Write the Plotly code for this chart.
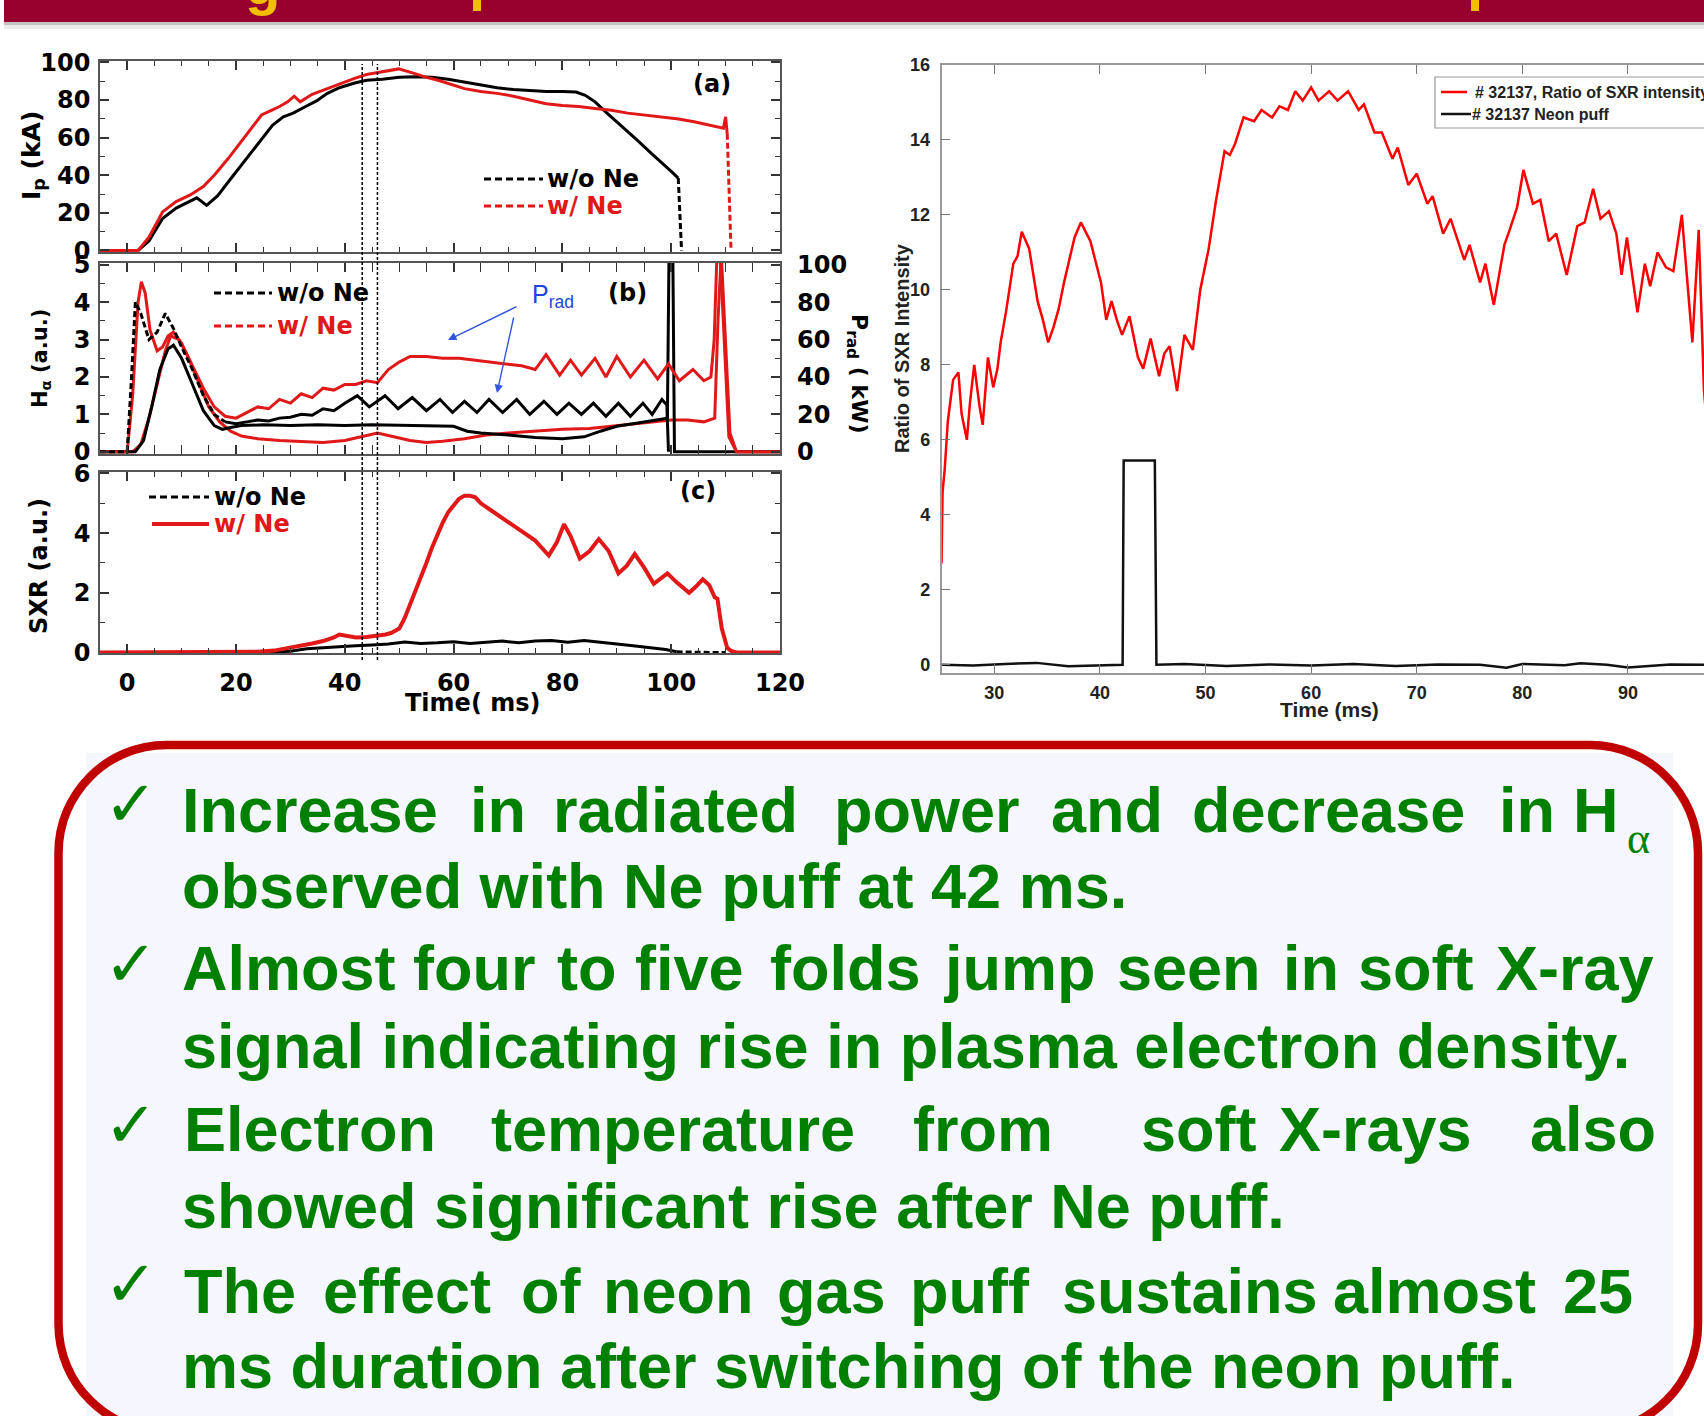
import plotly.graph_objects as go

W, H = 1704, 1416
def px(x): return x / W
def py(y): return 1 - y / H

# ---------------- data: panel (a) plasma current ----------------
ip_wo_t = [-5, 2, 4, 6.5, 9, 11, 12.8, 14.6, 16.6, 19, 21.7, 24, 26.7, 28.7, 30.5, 32.8, 34.8, 36.8, 39, 41.8,
           44, 46.9, 50, 53, 56, 59, 62, 65, 68, 71, 74, 77, 80, 82.5, 84.2, 86, 88, 90, 92, 94,
           96, 98, 100, 101.3, 101.9]
ip_wo = [0, 0, 5, 17, 22.5, 25.5, 28, 24, 29, 38, 48, 57, 66.5, 71, 73, 76.5, 79.5, 83.5, 86.5, 89,
         90.5, 91, 92, 92.3, 92, 91, 89.5, 88, 86.5, 85.5, 85, 84.5, 84.5, 84.2, 82.5, 79, 73.5, 68.5, 63, 58,
         52.5, 47, 42, 38.5, 0]
ip_ne_t = [-5, 2, 4, 6.5, 9, 11.6, 14, 16, 18.6, 21, 23, 24.7, 26.5, 28, 29.5, 30.7, 31.8, 34, 36.8, 39,
           41.8, 44, 46.9, 49.9, 52.9, 55, 57, 60, 62, 65, 68, 71, 74, 77, 80, 83, 86, 89, 92, 95,
           98, 101, 104, 107.4, 109.6, 110, 110.3, 111]
ip_ne = [0, 0, 7, 20.5, 26, 29.5, 34, 40, 49, 58, 66, 72, 74.5, 76.5, 79, 82, 79, 83, 86, 88.5,
         91.5, 93.5, 95, 96.5, 94, 92, 90.6, 88, 86, 84.5, 83.5, 82, 80, 78, 77, 76.5, 75.5, 74.5, 73, 72,
         71, 70, 68.5, 66.5, 65, 71, 62, 0]

# ---------------- data: panel (b) H-alpha (a.u.) and Prad (kW) ----------------
ha_wo_t = [-5, 1.5, 3, 4.5, 6, 7.5, 8.5, 10, 12, 14, 16, 17.5, 19, 21, 25, 30, 35, 40, 45, 50,
           55, 60, 62.5, 65, 70, 75, 80, 84, 87, 90, 93, 96, 98.5, 99.3, 99.6, 100.3, 100.6, 105, 120]
ha_wo = [0, 0, 0.3, 1.2, 2.2, 2.75, 2.85, 2.5, 1.8, 1.1, 0.7, 0.6, 0.65, 0.7, 0.72, 0.7, 0.72, 0.7, 0.72, 0.7,
         0.7, 0.68, 0.55, 0.5, 0.45, 0.38, 0.35, 0.4, 0.55, 0.68, 0.75, 0.82, 0.88, 0.9, 5.3, 5.3, 0, 0, 0]
ha_ne_t = [-5, 1, 2.5, 4, 5.5, 7, 8, 9.5, 11, 13, 15, 17, 19, 21, 24, 28, 32, 36, 40, 43,
           46, 49, 52, 55, 58, 62, 66, 70, 75, 80, 85, 90, 95, 100, 103, 106, 108, 108.6, 109.2, 110,
           110.8, 112, 120]
ha_ne = [0, 0, 0.2, 0.9, 1.8, 2.7, 3.1, 3.0, 2.6, 1.9, 1.2, 0.8, 0.55, 0.42, 0.35, 0.3, 0.28, 0.25, 0.3, 0.4,
         0.5, 0.4, 0.3, 0.25, 0.28, 0.35, 0.45, 0.5, 0.55, 0.6, 0.62, 0.7, 0.78, 0.85, 0.85, 0.8, 0.9, 3.5, 5.3, 3.0,
         0.5, 0, 0]
prad_wo_t = [-5, 0, 0.8, 1.5, 2.5, 4, 5.5, 7, 8.5, 10, 12, 14, 16, 18, 20, 22, 24, 26, 28, 30,
             32, 34, 36, 38, 40, 42.3, 44.5, 47.4, 49.8, 52.4, 55, 57.5, 59.8, 62, 64.3, 66.5, 69, 71.6, 74, 76.6,
             79, 81.2, 83.5, 85.7, 88, 90.3, 92.5, 94.8, 96.5, 98.3, 99.2, 99.5]
prad_wo = [0, 0, 40, 80, 74, 60, 64, 74, 66, 56, 44, 30, 20, 16, 15, 16, 17, 16.5, 18, 18.5,
           20, 19.5, 23, 22, 26, 30, 24, 30, 23, 29, 22, 28, 21, 27, 21, 28, 21, 28, 20, 27,
           20, 26, 20, 26, 19, 26, 19, 26, 20, 28, 25, 0]
prad_ne_t = [-5, 0, 1, 2, 2.6, 3.3, 4.2, 5.5, 6.5, 7.5, 8.5, 10, 12, 14, 16, 18, 20, 22, 24, 26,
             28, 30, 32, 34, 36, 38, 40, 42, 44, 46, 48, 50, 52, 55, 58, 61, 64, 67, 70, 72.5,
             75, 77, 79.5, 81.5, 83.5, 86, 88, 90, 92.5, 95, 97.5, 99.5, 101.5, 104, 106, 107.3, 107.9, 108.4, 109, 109.8,
             110.6, 112, 120]
prad_ne = [0, 0, 30, 80, 91, 85, 65, 54, 56, 62, 64, 58, 46, 34, 24, 19, 18, 21, 24, 23,
           28, 26, 31, 29, 34, 33, 36, 36, 38, 37, 44, 48, 51, 51, 50, 50, 49, 48, 47, 46,
           44, 52, 41, 49, 41, 50, 40, 51, 40, 49, 39, 47, 38, 44, 38, 40, 60, 105, 105, 60,
           8, 0, 0]

# ---------------- data: panel (c) SXR (a.u.) ----------------
sxr_ne_t = [-5, 20, 24, 27, 30, 32, 34, 36, 38, 39, 40.5, 42, 44, 46, 47.5, 48.5, 50, 51, 52, 53,
            54, 55, 56, 57, 58, 59, 60, 61, 62, 63, 64, 65, 67, 69, 71, 73, 75, 77.5, 79, 80.3,
            81.5, 83.2, 85, 86.7, 88.5, 90.3, 91.8, 93.3, 95, 96.8, 98, 99.3, 101, 103.3, 104.5, 105.8, 107, 108, 108.5, 109.3,
            110.3, 111, 112, 120]
sxr_ne = [0, 0, 0.02, 0.06, 0.15, 0.22, 0.3, 0.38, 0.5, 0.6, 0.55, 0.5, 0.52, 0.55, 0.6, 0.65, 0.8, 1.15, 1.6, 2.05,
          2.55, 3.0, 3.5, 3.95, 4.35, 4.7, 4.95, 5.15, 5.25, 5.25, 5.2, 5.0, 4.75, 4.5, 4.25, 4.0, 3.75, 3.25, 3.7, 4.3,
          3.9, 3.15, 3.4, 3.8, 3.4, 2.65, 2.9, 3.3, 2.85, 2.3, 2.45, 2.65, 2.35, 2.0, 2.2, 2.45, 2.25, 1.85, 1.8, 0.8,
          0.15, 0.05, 0, 0]
sxr_wo_t = [-5, 26, 30, 33, 36, 39, 42, 45, 48, 51, 54, 57, 60, 63, 66, 69, 72, 75, 78, 81,
            84, 87, 90, 93, 96, 99, 101, 104, 107, 110]
sxr_wo = [0, 0, 0.04, 0.12, 0.16, 0.18, 0.22, 0.25, 0.28, 0.35, 0.3, 0.32, 0.36, 0.3, 0.33, 0.38, 0.32, 0.38, 0.4, 0.34,
          0.4, 0.35, 0.28, 0.22, 0.16, 0.1, 0.02, 0, 0, 0]
puff_lines = [43.2, 46.0]

# ---------------- data: right panel, shot 32137 ----------------
ratio_t = [25.0, 25.1, 25.3, 25.6, 26.1, 26.6, 26.9, 27.4, 27.7, 28.1,
           28.6, 28.9, 29.4, 29.9, 30.3, 30.6, 31.1, 31.8, 32.2, 32.6,
           33.3, 34.1, 34.6, 35.1, 35.6, 36.1, 36.6, 37.6, 38.2, 39.1,
           40.1, 40.6, 41.1, 41.6, 42.1, 42.8, 43.6, 44.1, 44.8, 45.6,
           46.1, 46.6, 47.3, 48.0, 48.8, 49.5, 50.3, 51.0, 51.8, 52.3,
           52.8, 53.6, 54.6, 55.3, 56.3, 57.0, 57.8, 58.5, 59.2, 60.0,
           60.7, 61.7, 62.5, 63.5, 64.5, 65.0, 66.0, 66.7, 67.7, 68.2,
           69.2, 70.0, 71.0, 71.5, 72.5, 73.2, 74.5, 75.0, 76.0, 76.5,
           77.3, 78.3, 78.8, 79.5, 80.1, 81.0, 81.7, 82.5, 83.2, 84.2,
           85.2, 85.9, 86.7, 87.4, 88.2, 88.9, 89.4, 89.9, 90.9, 91.6,
           92.1, 92.8, 93.6, 94.3, 95.1, 96.1, 96.7, 97.2, 97.6]
ratio_v = [2.7, 4.6, 5.2, 6.5, 7.6, 7.8, 6.7, 6.0, 7.0, 8.0,
           6.9, 6.4, 8.2, 7.4, 7.9, 8.6, 9.4, 10.7, 10.9, 11.55,
           11.1, 9.7, 9.2, 8.6, 9.0, 9.5, 10.2, 11.4, 11.8, 11.3,
           10.2, 9.2, 9.7, 9.2, 8.8, 9.3, 8.2, 7.9, 8.7, 7.7,
           8.3, 8.5, 7.3, 8.8, 8.4, 10.0, 11.1, 12.4, 13.7, 13.6,
           13.9, 14.6, 14.5, 14.8, 14.6, 14.9, 14.8, 15.3, 15.05, 15.4,
           15.05, 15.3, 15.05, 15.3, 14.8, 14.95, 14.2, 14.2, 13.5, 13.8,
           12.8, 13.1, 12.3, 12.5, 11.5, 11.9, 10.8, 11.2, 10.2, 10.7,
           9.6, 11.2, 11.6, 12.2, 13.2, 12.3, 12.4, 11.3, 11.5, 10.4,
           11.7, 11.8, 12.7, 11.9, 12.1, 11.5, 10.4, 11.4, 9.4, 10.7,
           10.1, 11.0, 10.6, 10.5, 12.0, 8.6, 11.6, 7.3, 6.0]
neon_t = [25.0, 28.0, 31.0, 34.0, 37.0, 40.0, 42.15, 42.25, 43.5, 45.2, 45.35, 48.0, 52.0, 56.0, 60.0,
          64.0, 68.0, 72.0, 76.0, 78.5, 80.0, 84.0, 85.5, 88.0, 90.0, 94.0, 97.6]
neon_v = [0.0, -0.02, 0.02, 0.05, -0.04, -0.02, 0.0, 5.45, 5.45, 5.45, 0.0, 0.02, -0.03, 0.01, -0.02,
          0.02, -0.03, 0.01, 0.0, -0.08, 0.02, -0.01, 0.04, 0.0, -0.07, 0.01, 0.0]

# ---------------- text ----------------
line1_words = [("Increase", 182), ("in", 470), ("radiated", 553), ("power", 834), ("and", 1051),
               ("decrease", 1192), ("in", 1499), ("H", 1573)]
line5_words = [("Electron", 184), ("temperature", 491), ("from", 913), ("soft", 1141),
               ("X-rays", 1279), ("also", 1530)]
line7_words = [("The", 184), ("effect", 323), ("of", 521), ("neon", 603), ("gas", 777),
               ("puff", 910), ("sustains", 1062), ("almost", 1333), ("25", 1563)]
line3_words = [("Almost", 182), ("four", 413), ("to", 557), ("five", 635), ("folds", 770),
               ("jump", 944), ("seen", 1117), ("in", 1283), ("soft", 1358), ("X-ray", 1496)]
plain_lines = [("observed with Ne puff at 42 ms.", 908),
               ("signal indicating rise in plasma electron density.", 1068),
               ("showed significant rise after Ne puff.", 1228),
               ("ms duration after switching of the neon puff.", 1388)]

BLACK = "#000000"
RED = "#E01818"
GREEN = "#008000"
DJ = "DejaVu Sans"
LIB = "Liberation Sans"
NAR = "Liberation Sans Narrow, Arial Narrow, Liberation Sans"

fig = go.Figure()

def line_trace(x, y, xa, ya, color, width=3, dash="solid"):
    fig.add_trace(go.Scatter(x=x, y=y, mode="lines", xaxis=xa, yaxis=ya,
                             line=dict(color=color, width=width, dash=dash), hoverinfo="skip"))

DASH = "6px,3px"
# panel a
line_trace(ip_wo_t[:-1], ip_wo[:-1], "x", "y", BLACK)
line_trace(ip_wo_t[-2:], ip_wo[-2:], "x", "y", BLACK, dash=DASH)
line_trace(ip_ne_t[:-1], ip_ne[:-1], "x", "y", RED)
line_trace(ip_ne_t[-2:], ip_ne[-2:], "x", "y", RED, dash=DASH)
# panel b
line_trace(ha_ne_t, ha_ne, "x2", "y2", RED)
line_trace(ha_wo_t, ha_wo, "x2", "y2", BLACK)
line_trace(prad_ne_t, prad_ne, "x2", "y3", RED)
line_trace(prad_wo_t[:14], prad_wo[:14], "x2", "y3", BLACK, dash=DASH)
line_trace(prad_wo_t[13:], prad_wo[13:], "x2", "y3", BLACK)
# panel c
line_trace(sxr_wo_t[:27], sxr_wo[:27], "x3", "y4", BLACK)
line_trace(sxr_wo_t[26:], sxr_wo[26:], "x3", "y4", BLACK, dash=DASH)
line_trace(sxr_ne_t, sxr_ne, "x3", "y4", RED, width=4)
# right panel
line_trace(neon_t, neon_v, "x4", "y5", "#111111", width=2.5)
line_trace(ratio_t, ratio_v, "x4", "y5", "#FF0000", width=2.5)

tf_left = dict(family=DJ, size=24, color="black", weight="bold")
tf_right = dict(family=NAR, size=18, color="#222", weight="bold")

def xleft(anchor, show):
    return dict(domain=[px(100), px(780)], range=[-5, 120], anchor=anchor, showline=True,
                linecolor="#555", linewidth=1.5, mirror="allticks", ticks="inside", ticklen=9,
                tickwidth=1.5, tickcolor="#333", tick0=0, dtick=20, automargin=False,
                minor=dict(ticks="inside", ticklen=5, tickwidth=1.2, dtick=5, tickcolor="#333"),
                showgrid=False, zeroline=False, showticklabels=show, tickfont=tf_left,
                ticklabelstandoff=7)

def yleft(anchor, top, bottom, rng, dt, mdt, mirror="allticks"):
    return dict(domain=[py(bottom), py(top)], range=rng, anchor=anchor, showline=True,
                linecolor="#555", linewidth=1.5, mirror=mirror, ticks="inside", ticklen=9,
                tickwidth=1.5, tickcolor="#333", tick0=0, dtick=dt, automargin=False,
                minor=dict(ticks="inside", ticklen=5, tickwidth=1.2, dtick=mdt, tickcolor="#333"),
                showgrid=False, zeroline=False, tickfont=tf_left, ticklabelstandoff=3)

layout = dict(
    width=W, height=H, margin=dict(l=0, r=0, t=0, b=0, pad=0, autoexpand=False),
    paper_bgcolor="white", plot_bgcolor="white", showlegend=False,
    xaxis=xleft("y", False),
    xaxis2=xleft("y2", False),
    xaxis3=xleft("y4", True),
    yaxis=yleft("x", 61, 252, [-0.8, 100.7], 20, 10),
    yaxis2=yleft("x2", 263, 454, [-0.06, 5.05], 1, 0.5),
    yaxis3=dict(overlaying="y2", side="right", anchor="x2", range=[-1.2, 101], dtick=20, tick0=0,
                showline=False, ticks="", showgrid=False, zeroline=False, tickfont=tf_left,
                ticklabelstandoff=16, automargin=False),
    yaxis4=yleft("x3", 472, 653, [-0.02, 6.05], 2, 1),
    xaxis4=dict(domain=[px(941.5), 1.0], range=[25, 97.2], anchor="y5", showline=True,
                linecolor="#999", linewidth=1.5, mirror="allticks", ticks="inside", ticklen=9,
                tickwidth=1.2, tickcolor="#777", tick0=0, dtick=10, showgrid=False, zeroline=False,
                tickfont=tf_right, ticklabelstandoff=3, automargin=False),
    yaxis5=dict(domain=[py(673), py(65)], range=[-0.22, 16.0], anchor="x4", showline=True,
                linecolor="#999", linewidth=1.5, mirror=False, ticks="inside", ticklen=9,
                tickwidth=1.2, tickcolor="#777", tick0=0, dtick=2, showgrid=False, zeroline=False,
                tickfont=tf_right, ticklabelstandoff=6, automargin=False),
)

ann = []
def txt(s, x, y, size, color="black", family=DJ, weight="bold", xanchor="center", angle=0, baseline=False):
    yy = y - 0.3465 * size if baseline else y
    ann.append(dict(text=s, x=px(x), y=py(yy), xref="paper", yref="paper", xanchor=xanchor,
                    yanchor="middle", showarrow=False, textangle=angle, borderpad=0, borderwidth=0,
                    font=dict(family=family, size=size, color=color, weight=weight)))

shapes = []
def hline(x0, x1, y, color, width=3, dash="solid"):
    shapes.append(dict(type="line", xref="paper", yref="paper", x0=px(x0), x1=px(x1), y0=py(y), y1=py(y),
                       line=dict(color=color, width=width, dash=dash)))

# header bar (slide title cut off at the top edge)
shapes.append(dict(type="rect", xref="paper", yref="paper", x0=px(4), x1=1.0, y0=py(22), y1=1.0,
                   fillcolor="#97002E", line=dict(width=0), layer="below"))
shapes.append(dict(type="rect", xref="paper", yref="paper", x0=px(4), x1=1.0, y0=py(25), y1=py(22),
                   fillcolor="rgba(120,120,120,0.45)", line=dict(width=0), layer="below"))
shapes.append(dict(type="rect", xref="paper", yref="paper", x0=px(4), x1=1.0, y0=py(29), y1=py(25),
                   fillcolor="rgba(170,170,170,0.25)", line=dict(width=0), layer="below"))
for ch, xx, bl in [("g", 262, 4), ("p", 486, -1), ("p", 1484, -1)]:
    txt(ch, xx, bl, 58, color="#F2BE00", family=LIB, baseline=True)

# puff markers across the left panels
for tp in puff_lines:
    shapes.append(dict(type="line", xref="x3", yref="paper", x0=tp, x1=tp, y0=py(660), y1=py(64),
                       line=dict(color="black", width=1.5, dash="3px,2px")))

# left panel legends
hline(484, 543, 179, BLACK, dash="7px,4px"); txt("w/o Ne", 547, 179, 24, xanchor="left")
hline(484, 543, 206, RED, dash="7px,4px"); txt("w/ Ne", 547, 206, 24, color=RED, xanchor="left")
hline(214, 272, 293, BLACK, dash="7px,4px"); txt("w/o Ne", 277, 293, 24, xanchor="left")
hline(214, 272, 326, RED, dash="7px,4px"); txt("w/ Ne", 277, 326, 24, color=RED, xanchor="left")
hline(149, 209, 497, BLACK, dash="7px,4px"); txt("w/o Ne", 214, 497, 24, xanchor="left")
hline(152, 209, 524, RED, width=4); txt("w/ Ne", 214, 524, 24, color=RED, xanchor="left")

txt("(a)", 712, 84, 24); txt("(b)", 627, 293, 24); txt("(c)", 698, 491, 24)
txt("I<sub>p</sub> (kA)", 33, 156, 25, angle=-90)
txt("H<sub>α</sub> (a.u.)", 41, 359, 21, angle=-90)
txt("SXR (a.u.)", 39, 566, 24, angle=-90)
txt("P<sub>rad</sub> ( kW)", 858, 373, 22, angle=90)
txt("Time( ms)", 472, 703, 24)

# Prad annotation with arrows
txt("P<sub>rad</sub>", 553, 296, 25, color="#2244DD", family=LIB, weight="normal")
for hx, hy, tx, ty in [(448, 340, 518, 306), (497, 393, 514, 316)]:
    ann.append(dict(text="", x=px(hx), y=py(hy), xref="paper", yref="paper", showarrow=True,
                    ax=tx - hx, ay=ty - hy, arrowhead=2, arrowsize=1.2, arrowwidth=1.4,
                    arrowcolor="#3355DD"))

# right panel titles and legend
txt("Time (ms)", 1329, 710, 21, color="#222", family=NAR)
txt("Ratio of SXR Intensity", 902, 348, 20, color="#222", family=LIB, angle=-90)
shapes.append(dict(type="rect", xref="paper", yref="paper", x0=px(1435), x1=px(1760), y0=py(128), y1=py(77),
                   fillcolor="white", line=dict(color="#999", width=1.2)))
hline(1441, 1467, 92, "#FF0000", width=2.5)
txt("# 32137, Ratio of SXR intensity", 1475, 92, 16, color="#222", family=NAR, xanchor="left")
hline(1441, 1471, 114, "#111111", width=2.5)
txt("# 32137 Neon puff", 1472, 114, 16, color="#222", family=NAR, xanchor="left")

# text box
shapes.append(dict(type="rect", xref="paper", yref="paper", x0=px(86), x1=px(1673), y0=py(1430), y1=py(753),
                   fillcolor="#F5F6FE", line=dict(width=0), layer="below"))
x0, x1, y0, y1, R = 58.5, 1698, 745, 1432, 108
k = 0.5523 * R
def P(x, y): return f"{px(x):.6f},{py(y):.6f}"
path = (f"M{P(x0 + R, y0)} L{P(x1 - R, y0)} C{P(x1 - R + k, y0)} {P(x1, y0 + R - k)} {P(x1, y0 + R)} "
        f"L{P(x1, y1 - R)} C{P(x1, y1 - R + k)} {P(x1 - R + k, y1)} {P(x1 - R, y1)} "
        f"L{P(x0 + R, y1)} C{P(x0 + R - k, y1)} {P(x0, y1 - R + k)} {P(x0, y1 - R)} "
        f"L{P(x0, y0 + R)} C{P(x0, y0 + R - k)} {P(x0 + R - k, y0)} {P(x0 + R, y0)} Z")
shapes.append(dict(type="path", xref="paper", yref="paper", path=path,
                   line=dict(color="#C00000", width=8.5), fillcolor="rgba(0,0,0,0)"))

TS = 63
for w, xx in line1_words:
    txt(w, xx, 832, TS, color=GREEN, family=LIB, xanchor="left", baseline=True)
txt("α", 1638, 838, 44, color=GREEN, family="Liberation Serif", weight="normal")
for w, xx in line3_words:
    txt(w, xx, 990, TS, color=GREEN, family=LIB, xanchor="left", baseline=True)
for w, xx in line5_words:
    txt(w, xx, 1151, TS, color=GREEN, family=LIB, xanchor="left", baseline=True)
for w, xx in line7_words:
    txt(w, xx, 1313, TS, color=GREEN, family=LIB, xanchor="left", baseline=True)
for s, bl in plain_lines:
    txt(s, 182, bl, TS, color=GREEN, family=LIB, xanchor="left", baseline=True)
for cy in [804, 964, 1125, 1284]:
    txt("✓", 131, cy, 64, color=GREEN, family=DJ, weight="normal")

layout["annotations"] = ann
layout["shapes"] = shapes
fig.update_layout(**layout)
fig.write_html("out.html", config={"displayModeBar": False},
               post_script="document.body.style.margin='0';document.body.style.padding='0';")
